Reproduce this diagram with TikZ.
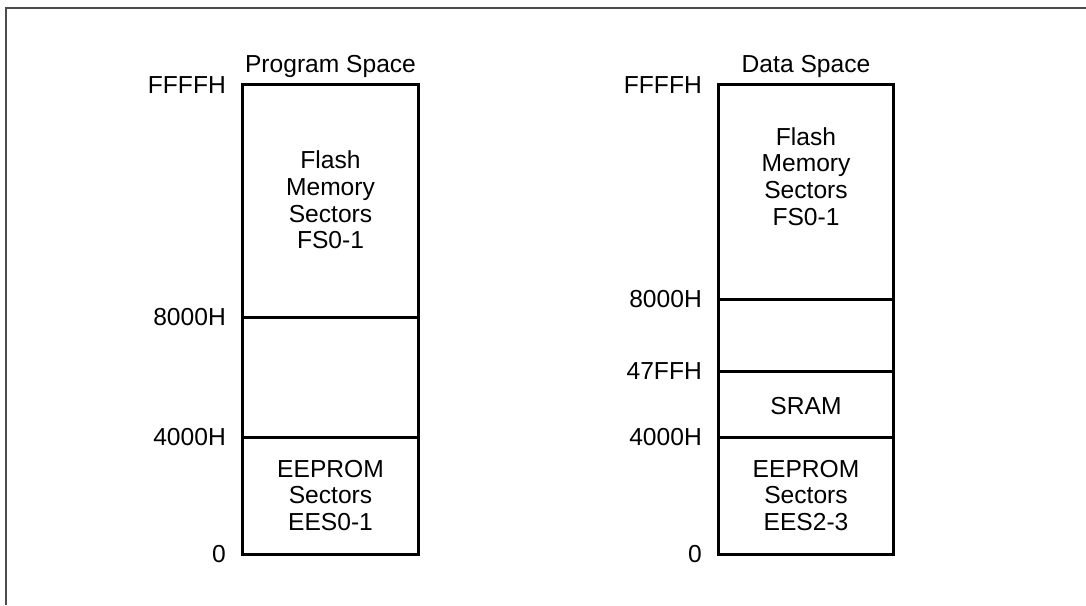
\documentclass[tikz,border=0pt]{standalone}
\usepackage{fontspec}
\setmainfont{Liberation Sans}
\begin{document}
\begin{tikzpicture}[x=1pt,y=-1pt,
  region/.style={draw=black, line width=3pt, minimum width=175.5pt, inner sep=0pt, outer sep=0pt},
  txt/.style={font=\fontsize{24.6}{26.7}\selectfont, align=center, inner sep=0pt},
  addr/.style={font=\fontsize{24.6}{26.7}\selectfont, anchor=east, inner sep=0pt},
  frameline/.style={draw=black!70, line width=1.5pt}]
\useasboundingbox (0,0) rectangle (1086,605);
\coordinate (ftr) at (1086,8);
\coordinate (ftl) at (6,8);
\coordinate (fbl) at (6,605);
\draw[frameline] (ftr) -- (ftl) -- (fbl);

% Program space
\node[region, minimum height=233pt] (pflash) at (330.5,200.5) {};
\node[region, minimum height=120pt] (pmid) at (330.5,377) {};
\node[region, minimum height=117pt] (peep) at (330.5,495.5) {};
\node[txt, anchor=base] (ptitle) at (330.5,72) {Program Space};
\node[txt] (pflasht) at (330.5,200) {Flash\\Memory\\Sectors\\FS0-1};
\node[txt] (peept) at (330.5,495.5) {EEPROM\\Sectors\\EES0-1};
\node[addr] (pa1) at (226,85) {FFFFH};
\node[addr] (pa2) at (226,317) {8000H};
\node[addr] (pa3) at (226,437) {4000H};
\node[addr] (pa4) at (226,554) {0};

% Data space
\node[region, minimum height=215pt] (dflash) at (806,191.5) {};
\node[region, minimum height=72pt] (dmid) at (806,335) {};
\node[region, minimum height=66pt] (dsram) at (806,404) {};
\node[region, minimum height=117pt] (deep) at (806,495.5) {};
\node[txt, anchor=base] (dtitle) at (806,72) {Data Space};
\node[txt] (dflasht) at (806,176.5) {Flash\\Memory\\Sectors\\FS0-1};
\node[txt] (dsramt) at (806,406) {SRAM};
\node[txt] (deept) at (806,495.5) {EEPROM\\Sectors\\EES2-3};
\node[addr] (da1) at (702,85) {FFFFH};
\node[addr] (da2) at (702,299) {8000H};
\node[addr] (da3) at (702,371) {47FFH};
\node[addr] (da4) at (702,437) {4000H};
\node[addr] (da5) at (702,554) {0};
\end{tikzpicture}
\end{document}
